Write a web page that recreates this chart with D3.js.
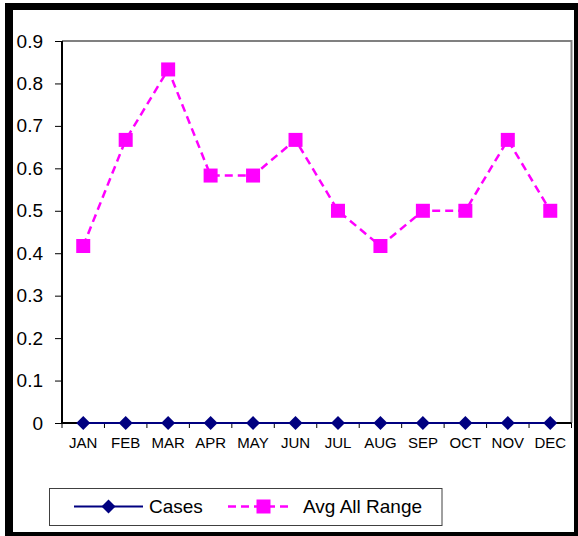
<!DOCTYPE html>
<html><head><meta charset="utf-8">
<script src="https://cdn.jsdelivr.net/npm/d3@7"></script>
<style>html,body{margin:0;padding:0;background:#fff}svg{display:block}</style>
</head><body>
<svg id="c" width="578" height="536"></svg>
<script>
const months = ["JAN","FEB","MAR","APR","MAY","JUN","JUL","AUG","SEP","OCT","NOV","DEC"];
const cases = [0,0,0,0,0,0,0,0,0,0,0,0];
const avgAllRange = [0.417,0.667,0.833,0.583,0.583,0.667,0.5,0.417,0.5,0.5,0.667,0.5];
const yTicks = [0,0.1,0.2,0.3,0.4,0.5,0.6,0.7,0.8,0.9];
const seriesNames = ["Cases","Avg All Range"];

const svg = d3.select("#c");
const font = "Arial, 'Liberation Sans', sans-serif";

// chart area frame (thick black border)
svg.append("rect").attr("x",5).attr("y",3).attr("width",573).attr("height",533).attr("fill","#000");
svg.append("rect").attr("x",13).attr("y",10).attr("width",561).attr("height",522).attr("fill","#fff");

const L = 62, R = 571.5, T = 41, B = 423;
const x = d3.scaleBand().domain(months).range([L, R]);
const y = d3.scaleLinear().domain([0, 0.9]).range([B, T]);
const cx = d => x(d) + x.bandwidth()/2;

// plot area border (gray)
svg.append("path").attr("d",`M${L},${T}H${R}V${B}`).attr("fill","none").attr("stroke","#808080").attr("stroke-width",2);

// y axis
const ya = svg.append("g").attr("transform",`translate(${L},0)`)
  .call(d3.axisLeft(y).tickValues(yTicks).tickSize(7).tickPadding(12).tickFormat(d => d === 0 ? "0" : d3.format(".1f")(d)));
ya.select(".domain").attr("stroke","#000").attr("stroke-width",2).attr("d",`M0,${T}V${B}`);
ya.selectAll(".tick line").attr("stroke","#000").attr("stroke-width",1);
ya.selectAll("text").attr("font-family",font).attr("font-size",19).attr("fill","#000");

// x axis
const xa = svg.append("g").attr("transform",`translate(0,${B})`)
  .call(d3.axisBottom(x).tickSize(0).tickPadding(14));
xa.select(".domain").attr("stroke","#000").attr("stroke-width",2).attr("d",`M${L},0H${R}`);
xa.selectAll("text").attr("font-family",font).attr("font-size",15).attr("fill","#000");
// tick marks between categories
xa.selectAll(".sep").data(months.concat(["end"])).enter().append("line")
  .attr("x1",(d,i)=> L + i*x.step()).attr("x2",(d,i)=> L + i*x.step())
  .attr("y1",0).attr("y2",5).attr("stroke","#000").attr("stroke-width",1);

// Avg All Range series
const line = d3.line().x((d,i)=>cx(months[i])).y(d=>y(d));
svg.append("path").datum(avgAllRange).attr("d",line).attr("fill","none")
  .attr("stroke","#FF00FF").attr("stroke-width",2.5).attr("stroke-dasharray","8,5");
const sq = 14;
svg.selectAll(".sq").data(avgAllRange).enter().append("rect")
  .attr("x",(d,i)=>cx(months[i])-sq/2).attr("y",d=>y(d)-sq/2)
  .attr("width",sq).attr("height",sq).attr("fill","#FF00FF");

// Cases series
svg.append("path").datum(cases).attr("d",line).attr("fill","none")
  .attr("stroke","#000080").attr("stroke-width",2);
const dia = d3.symbol().type(d3.symbolDiamond2).size(72);
const diamond = (s) => `M0,${-s}L${s},0L0,${s}L${-s},0Z`;
svg.selectAll(".dm").data(cases).enter().append("path")
  .attr("transform",(d,i)=>`translate(${cx(months[i])},${y(d)})`)
  .attr("d",diamond(7)).attr("fill","#000080");

// legend
const lg = svg.append("g");
lg.append("rect").attr("x",49.5).attr("y",488.5).attr("width",392.5).attr("height",37)
  .attr("fill","#fff").attr("stroke","#404040").attr("stroke-width",1);
const ly = 506.5;
lg.append("line").attr("x1",74).attr("x2",143).attr("y1",ly).attr("y2",ly).attr("stroke","#000080").attr("stroke-width",2);
lg.append("path").attr("transform",`translate(108.5,${ly})`).attr("d",diamond(7)).attr("fill","#000080");
lg.append("text").attr("x",149).attr("y",ly).attr("dy","0.35em").attr("font-family",font).attr("font-size",19).text(seriesNames[0]);
lg.append("line").attr("x1",228).attr("x2",292).attr("y1",ly).attr("y2",ly).attr("stroke","#FF00FF").attr("stroke-width",2.5).attr("stroke-dasharray","8,5");
lg.append("rect").attr("x",263.5-sq/2).attr("y",ly-sq/2).attr("width",sq).attr("height",sq).attr("fill","#FF00FF");
lg.append("text").attr("x",303).attr("y",ly).attr("dy","0.35em").attr("font-family",font).attr("font-size",19).text(seriesNames[1]);
</script>
</body></html>
